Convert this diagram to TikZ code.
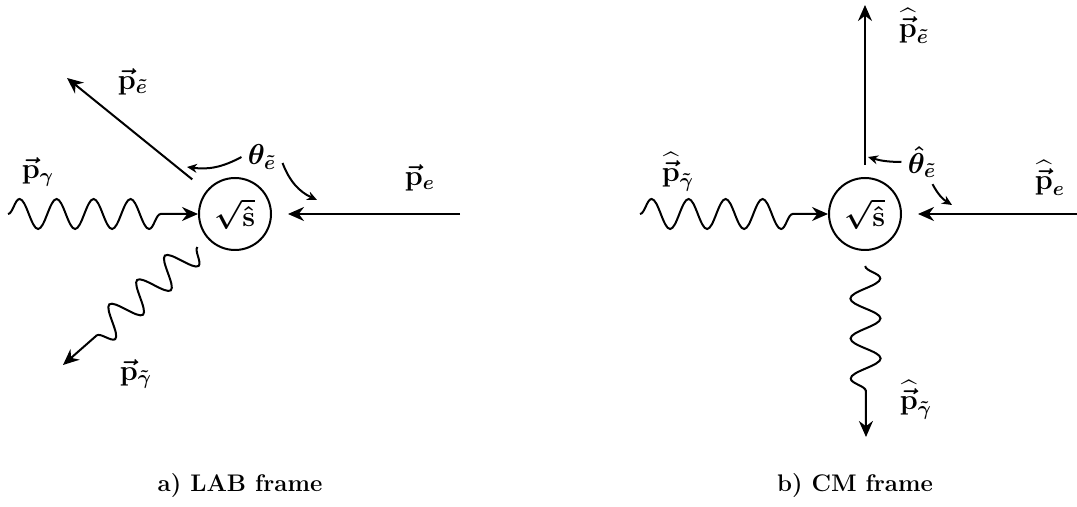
\documentclass[tikz,border=0pt]{standalone}
\usepackage{amsmath,amssymb}
\usepackage{tikz}
\usetikzlibrary{arrows.meta,decorations.pathmorphing,calc}

\begin{document}
\begin{tikzpicture}[
    x=0.5pt, y=-0.5pt,
    font=\fontsize{12}{14}\selectfont\bfseries\boldmath,
    vertex/.style={circle, draw, line width=1pt, minimum size=36pt, inner sep=0pt,
                   font=\fontsize{15}{17}\selectfont\bfseries\boldmath},
    arr/.style={-{Stealth[length=8pt,width=7pt]}, line width=1pt},
    tiny/.style={-{Stealth[length=5pt,width=4.5pt]}, line width=1pt},
    wave/.style={arr, decorate, decoration={snake, segment length=18.5pt, amplitude=7.5pt, post length=16pt}},
    lbl/.style={inner sep=0pt, font=\fontsize{14}{16}\selectfont\bfseries\boldmath},
]
\useasboundingbox (0,0) rectangle (1077,507);

% a) LAB frame
\node[vertex] (lab) at (235,214) {$\sqrt{\hat{\mathbf{s}}}$};
\coordinate (labg) at (8,214);
\coordinate (labe) at (460,214);
\coordinate (labse) at (67,78);
\coordinate (labpo) at (63,365);
\coordinate (labta) at (187,167);
\coordinate (labtb) at (317,200);

\draw[wave] (labg) -- (lab.west);
\draw[arr, shorten >=8pt] (labe) -- (lab);
\draw[arr, shorten <=9pt] (lab.141) -- (labse);
\draw[wave, decoration={post length=13pt}] ($(lab)!25pt!(labpo)$) -- (labpo);

\node[lbl] (labthe) at (262,157) {$\theta_{\tilde{e}}$};
\draw[tiny] ([xshift=-3pt]labthe.west) to[bend left=18] (labta);
\draw[tiny] ([xshift=3pt,yshift=-3pt]labthe.east) to[bend right=22] (labtb);

\node[lbl] at (38,172) {$\vec{\mathbf{p}}_{\gamma}$};
\node[lbl] at (420,178) {$\vec{\mathbf{p}}_{e}$};
\node[lbl] at (133,82) {$\vec{\mathbf{p}}_{\tilde{e}}$};
\node[lbl] at (136,374) {$\vec{\mathbf{p}}_{\tilde{\gamma}}$};
\node at (240,486) {a) LAB frame};

% b) CM frame
\node[vertex] (cm) at (865,214) {$\sqrt{\hat{\mathbf{s}}}$};
\coordinate (cmg) at (640,214);
\coordinate (cme) at (1077,214);
\coordinate (cmse) at (865,5);
\coordinate (cmpo) at (866,437);
\coordinate (cmta) at (868,157);
\coordinate (cmtb) at (952,205);

\draw[wave] (cmg) -- (cm.west);
\draw[arr, shorten >=8pt] (cme) -- (cm);
\draw[arr, shorten <=6pt] (cm.north) -- (cmse);
\draw[wave, decoration={segment length=20pt}] ($(cm)!26pt!(cmpo)$) -- (cmpo);

\node[lbl] (cmthe) at (922,162) {$\hat{\theta}_{\tilde{e}}$};
\draw[tiny] ([xshift=-3pt]cmthe.west) to[bend left=8] (cmta);
\draw[tiny] (cmthe.south east) ++(-4,6) to[bend right=15] (cmtb);

\node[lbl] at (678,172) {$\widehat{\vec{\mathbf{p}}}_{\tilde{\gamma}}$};
\node[lbl] at (1050,178) {$\widehat{\vec{\mathbf{p}}}_{e}$};
\node[lbl] at (914,26) {$\widehat{\vec{\mathbf{p}}}_{\tilde{e}}$};
\node[lbl] at (916,400) {$\widehat{\vec{\mathbf{p}}}_{\tilde{\gamma}}$};
\node at (855,486) {b) CM frame};
\end{tikzpicture}
\end{document}
